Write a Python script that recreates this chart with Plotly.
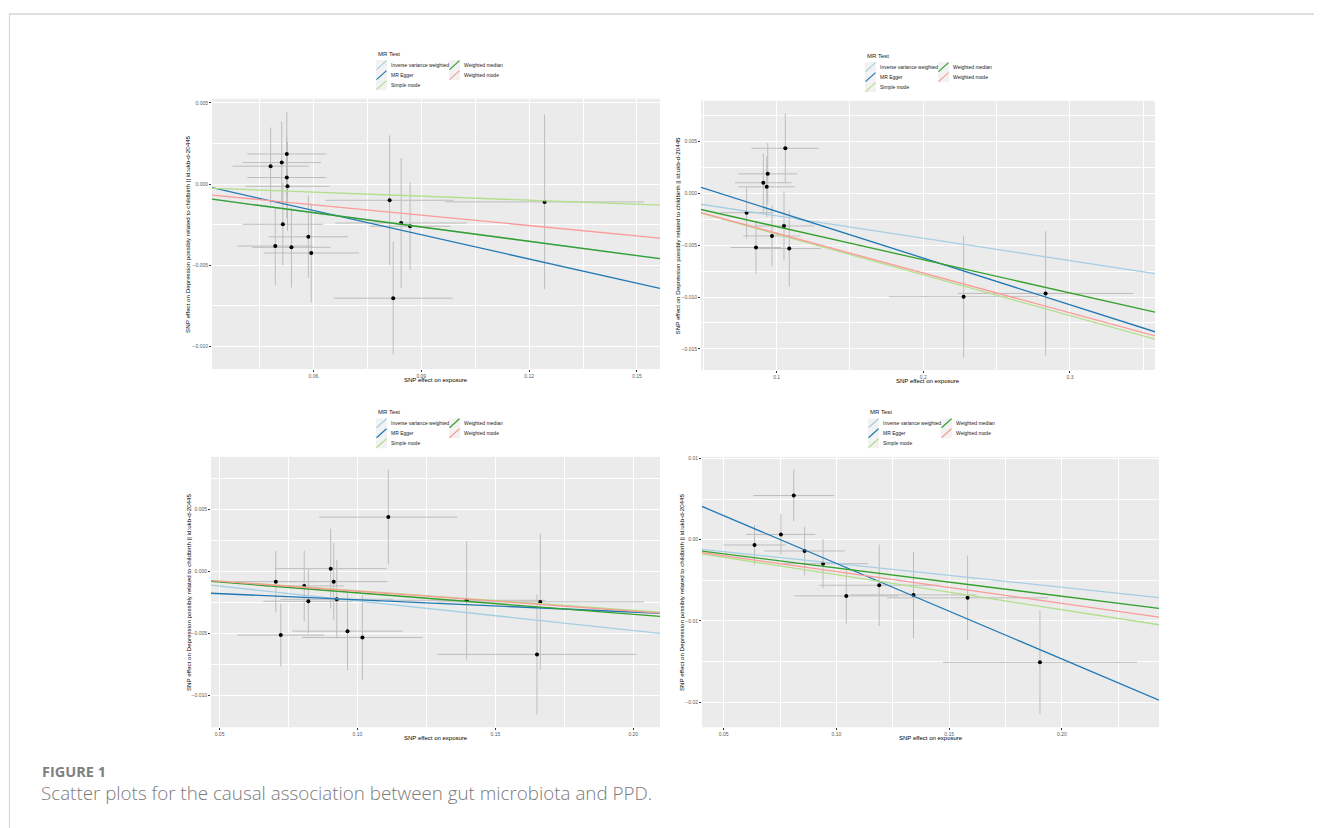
import plotly.graph_objects as go

# page offset (browser body margin) compensation
OFF = 8
W, H = 1322 - OFF, 828 - OFF

# ---------------- data ----------------
methods = ["Inverse variance weighted", "MR Egger", "Simple mode", "Weighted median", "Weighted mode"]
method_colors = ["#a6cee3", "#1f78b4", "#b2df8a", "#33a02c", "#fb9a99"]

# Panel 1
p1_bx = [0.0526, 0.0512, 0.0481, 0.0526, 0.0528, 0.0515, 0.0586, 0.0494, 0.0539, 0.0594, 0.0812, 0.0844, 0.0869, 0.0822, 0.1243]
p1_by = [0.00185, 0.00132, 0.00110, 0.00040, -0.00014, -0.00248, -0.00325, -0.00382, -0.00390, -0.00425, -0.00100, -0.00240, -0.00260, -0.00703, -0.00110]
p1_sx = [0.0110, 0.0109, 0.0106, 0.0110, 0.0117, 0.01125, 0.0111, 0.01046, 0.0109, 0.0133, 0.0179, 0.0183, 0.01125, 0.0165, 0.0277]
p1_sy = [0.0026, 0.00252, 0.00238, 0.0025, 0.00274, 0.00254, 0.00254, 0.0024, 0.00247, 0.00305, 0.0040, 0.0040, 0.0027, 0.00348, 0.00538]
p1_intercept = [0.0, 0.00136, 0.0, 0.0, 0.0]
p1_slope = [-0.0294, -0.0498, -0.0083, -0.0294, -0.0213]

# Panel 2
p2_bx = [0.1059, 0.0939, 0.0909, 0.0932, 0.0795, 0.1050, 0.0968, 0.0859, 0.1086, 0.2275, 0.2834]
p2_by = [0.00436, 0.00189, 0.00103, 0.00064, -0.00186, -0.00314, -0.00410, -0.00522, -0.00532, -0.00997, -0.00965]
p2_sx = [0.0231, 0.0201, 0.0193, 0.0193, 0.0180, 0.0205, 0.0195, 0.0173, 0.0216, 0.0511, 0.0597]
p2_sy = [0.00337, 0.00296, 0.00282, 0.00293, 0.0025, 0.00333, 0.00293, 0.00253, 0.00369, 0.0059, 0.0060]
p2_intercept = [0.0, 0.00276, 0.0, 0.0, 0.0]
p2_slope = [-0.0216, -0.0450, -0.0393, -0.0320, -0.0384]

# Panel 3
p3_bx = [0.0704, 0.0722, 0.0807, 0.0822, 0.0903, 0.0914, 0.0925, 0.0964, 0.1018, 0.1112, 0.1396, 0.1663, 0.1651]
p3_by = [-0.00083, -0.00513, -0.00118, -0.00241, 0.00021, -0.00083, -0.00225, -0.00481, -0.00532, 0.00436, -0.00233, -0.00246, -0.00668]
p3_sx = [0.0150, 0.0157, 0.0145, 0.0163, 0.0203, 0.0195, 0.0204, 0.0200, 0.0219, 0.0251, 0.0285, 0.0376, 0.0361]
p3_sy = [0.00247, 0.00251, 0.00285, 0.00258, 0.00321, 0.00311, 0.00314, 0.00316, 0.00341, 0.0038, 0.00475, 0.00548, 0.00484]
p3_intercept = [0.0, -0.00130, 0.0, 0.0, 0.0]
p3_slope = [-0.0238, -0.00989, -0.0157, -0.0173, -0.0160]

# Panel 4
p4_bx = [0.0637, 0.0754, 0.0811, 0.0859, 0.0941, 0.1044, 0.1190, 0.1342, 0.1582, 0.1903]
p4_by = [-0.00065, 0.00065, 0.00544, -0.00139, -0.00295, -0.00692, -0.00561, -0.00680, -0.00716, -0.01510]
p4_sx = [0.0138, 0.0153, 0.0179, 0.0178, 0.0200, 0.0231, 0.0266, 0.0280, 0.0357, 0.0431]
p4_sy = [0.00246, 0.00256, 0.00317, 0.00301, 0.00303, 0.00344, 0.00501, 0.00532, 0.00522, 0.0064]
p4_intercept = [0.0, 0.00885, 0.0, 0.0, 0.0]
p4_slope = [-0.0293, -0.1177, -0.0431, -0.0348, -0.0392]

y_title = "SNP effect on Depression possibly related to childbirth || id:ukb-d-20445"
x_title = "SNP effect on exposure"
caption_label = "FIGURE 1"
caption_text = "Scatter plots for the causal association between gut microbiota and PPD."

# ---------------- layout helpers ----------------
def px(x):
    return (x - OFF) / W

def py(y):
    return 1 - (y - OFF) / H

panels = [
    dict(data=(p1_bx, p1_by, p1_sx, p1_sy, p1_intercept, p1_slope),
         box=(212, 97, 660, 368), xr=(0.0318, 0.1564), yr=(-0.0114, 0.00525),
         xdt=0.03, xfmt=".2f", ydt=0.005, yfmt=".3f",
         ytx=188, leg=(376, 51.7)),
    dict(data=(p2_bx, p2_by, p2_sx, p2_sy, p2_intercept, p2_slope),
         box=(701, 99, 1155, 369), xr=(0.0484, 0.358), yr=(-0.01705, 0.00894),
         xdt=0.1, xfmt=".1f", ydt=0.005, yfmt=".3f",
         ytx=677, leg=(865, 53.7)),
    dict(data=(p3_bx, p3_by, p3_sx, p3_sy, p3_intercept, p3_slope),
         box=(211, 456, 660, 727), xr=(0.0469, 0.2097), yr=(-0.01254, 0.0092),
         xdt=0.05, xfmt=".2f", ydt=0.005, yfmt=".3f",
         ytx=188, leg=(376, 410.7)),
    dict(data=(p4_bx, p4_by, p4_sx, p4_sy, p4_intercept, p4_slope),
         box=(702, 456, 1159, 727), xr=(0.0404, 0.2431), yr=(-0.0231, 0.0102),
         xdt=0.05, xfmt=".2f", ydt=0.01, yfmt=".2f",
         ytx=681, leg=(868, 410.7)),
]

fig = go.Figure()
annotations = []
shapes = []
layout = dict(
    width=W, height=H, autosize=False,
    margin=dict(l=0, r=0, t=0, b=0),
    paper_bgcolor="white", plot_bgcolor="#ebebeb",
    showlegend=False,
    font=dict(family="Liberation Sans, Arial, sans-serif", color="#1a1a1a"),
)

tick_font = dict(family="Liberation Sans, Arial, sans-serif", size=5, color="#5a5a5a")

for i, p in enumerate(panels, start=1):
    bx, by, sx, sy, icpt, slope = p["data"]
    x0, y0, x1, y1 = p["box"]
    xa = "x" if i == 1 else f"x{i}"
    ya = "y" if i == 1 else f"y{i}"
    xkey = "xaxis" if i == 1 else f"xaxis{i}"
    ykey = "yaxis" if i == 1 else f"yaxis{i}"

    common = dict(showgrid=True, gridcolor="white", gridwidth=1.1, zeroline=False,
                  ticks="outside", ticklen=2, tickwidth=0.6, tickcolor="#333333",
                  tickfont=tick_font, showline=False, fixedrange=True)
    layout[xkey] = dict(common, domain=[px(x0), px(x1)], anchor=ya, range=list(p["xr"]),
                        tick0=0, dtick=p["xdt"], tickformat=p["xfmt"],
                        minor=dict(showgrid=True, gridcolor="white", gridwidth=0.5,
                                   tick0=0, dtick=p["xdt"] / 2, ticks=""))
    layout[ykey] = dict(common, domain=[py(y1), py(y0)], anchor=xa, range=list(p["yr"]),
                        tick0=0, dtick=p["ydt"], tickformat=p["yfmt"],
                        minor=dict(showgrid=True, gridcolor="white", gridwidth=0.5,
                                   tick0=0, dtick=p["ydt"] / 2, ticks=""))

    # points with error bars
    fig.add_trace(go.Scatter(
        x=bx, y=by, mode="markers", xaxis=xa, yaxis=ya,
        marker=dict(color="black", size=4),
        error_x=dict(type="data", array=sx, visible=True, color="#bdbdbd", thickness=1, width=0),
        error_y=dict(type="data", array=sy, visible=True, color="#bdbdbd", thickness=1, width=0),
        hoverinfo="x+y", name="SNP",
    ))
    # MR method lines across the panel
    xlo, xhi = p["xr"]
    for m, c, a, b in zip(methods, method_colors, icpt, slope):
        fig.add_trace(go.Scatter(
            x=[xlo, xhi], y=[a + b * xlo, a + b * xhi], mode="lines",
            xaxis=xa, yaxis=ya, line=dict(color=c, width=1.3), name=m,
        ))

    # axis titles
    annotations.append(dict(text=x_title, x=px((x0 + x1) / 2), y=py(y1 + 11),
                            xref="paper", yref="paper", showarrow=False,
                            xanchor="center", yanchor="middle",
                            font=dict(size=6, color="#000000")))
    annotations.append(dict(text=y_title, x=px(p["ytx"]), y=py((y0 + y1) / 2),
                            xref="paper", yref="paper", showarrow=False, textangle=-90,
                            xanchor="center", yanchor="middle",
                            font=dict(size=6.2, color="#000000")))

    # legend ("MR Test") drawn in ggplot style
    lx, ly = p["leg"]
    annotations.append(dict(text="MR Test", x=px(lx), y=py(ly), xref="paper", yref="paper",
                            showarrow=False, xanchor="left", yanchor="middle",
                            font=dict(size=6, color="#1a1a1a")))
    order = [(0, 0, 0), (1, 0, 1), (2, 0, 2), (3, 1, 0), (4, 1, 1)]
    for mi, col, row in order:
        kx = lx + col * 73
        ky = ly + 11.6 + row * 10
        shapes.append(dict(type="rect", xref="paper", yref="paper",
                           x0=px(kx), x1=px(kx + 11), y0=py(ky + 5), y1=py(ky - 5),
                           fillcolor="#f2f2f2", line=dict(width=0), layer="above"))
        shapes.append(dict(type="line", xref="paper", yref="paper",
                           x0=px(kx + 0.5), y0=py(ky + 4.5), x1=px(kx + 10.5), y1=py(ky - 4.5),
                           line=dict(color=method_colors[mi], width=1.2), layer="above"))
        annotations.append(dict(text=methods[mi], x=px(kx + 13), y=py(ky), xref="paper", yref="paper",
                                showarrow=False, xanchor="left", yanchor="middle",
                                font=dict(size=5, color="#1a1a1a")))

# page frame lines
shapes.append(dict(type="line", xref="paper", yref="paper", x0=px(9), x1=1.0, y0=py(12), y1=py(12),
                   line=dict(color="#dedede", width=2)))
shapes.append(dict(type="line", xref="paper", yref="paper", x0=px(9.5), x1=px(9.5), y0=py(12), y1=0,
                   line=dict(color="#d6d6d6", width=1.2)))

# caption
annotations.append(dict(text="<b>" + caption_label + "</b>", x=px(40), y=py(771.5), xref="paper", yref="paper",
                        showarrow=False, xanchor="left", yanchor="middle",
                        font=dict(family="Open Sans, sans-serif", size=14.5, color="#808080")))
annotations.append(dict(text=caption_text, x=px(39), y=py(793), xref="paper", yref="paper",
                        showarrow=False, xanchor="left", yanchor="middle",
                        font=dict(family="Open Sans, sans-serif", size=18.8, color="#7a7a7a", weight=300)))

layout["annotations"] = annotations
layout["shapes"] = shapes
fig.update_layout(**layout)

fig.write_html("out.html")
